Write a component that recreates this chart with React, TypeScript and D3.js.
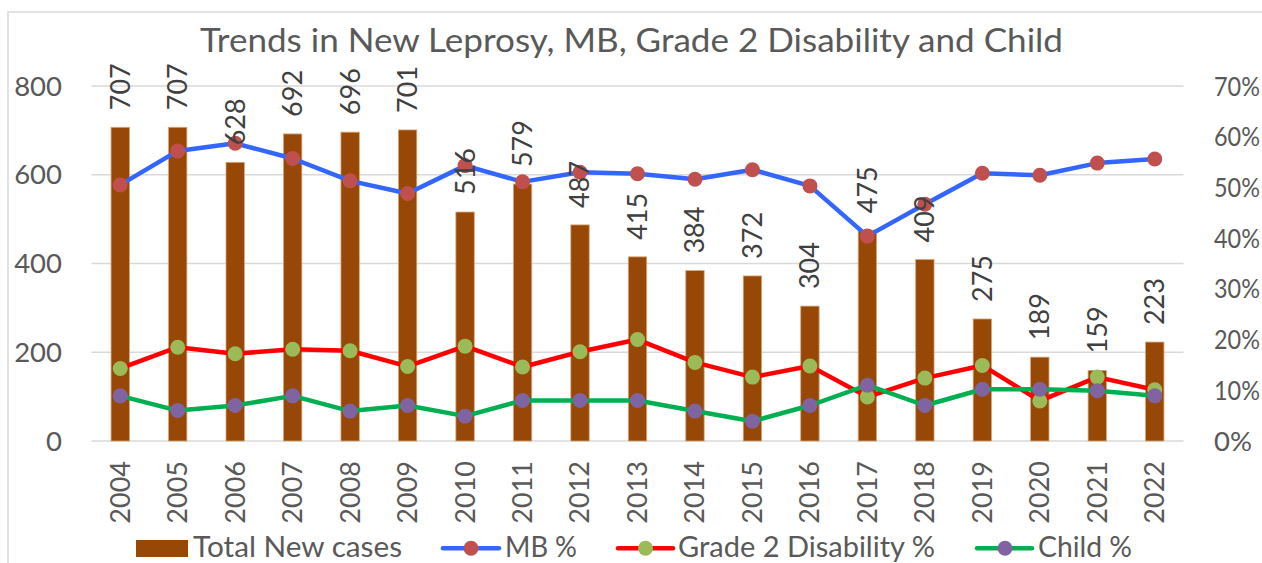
import React from 'react';
import * as d3 from 'd3';

const years = ['2004','2005','2006','2007','2008','2009','2010','2011','2012','2013','2014','2015','2016','2017','2018','2019','2020','2021','2022'];
const totalNewCases = [707,707,628,692,696,701,516,579,487,415,384,372,304,475,409,275,189,159,223];
const mbPct = [50.5,57.2,58.7,55.7,51.3,48.8,54.3,51.1,53.0,52.7,51.6,53.5,50.3,40.4,46.7,52.8,52.4,54.8,55.6];
const grade2Pct = [14.3,18.5,17.2,18.1,17.8,14.7,18.7,14.6,17.6,20.0,15.5,12.6,14.8,8.7,12.4,14.9,7.9,12.6,10.1];
const childPct = [8.9,6.0,7.0,8.9,5.9,7.0,4.9,8.0,8.0,8.0,5.9,3.9,7.0,11.0,7.0,10.2,10.2,9.9,8.9];
const leftTicks = [0,200,400,600,800];
const rightTicks = [0,10,20,30,40,50,60,70];
const title = 'Trends in New Leprosy, MB, Grade 2 Disability and Child';
const seriesNames = ['Total New cases','MB %','Grade 2 Disability %','Child %'];

const FONT = 'Lato, "Open Sans", sans-serif';
const TXT = '#595959';

export default function App() {
  const W = 1262, H = 563;
  const x = d3.scalePoint<string>().domain(years).range([91.5, 1183.5]).padding(0.5);
  const step = x.step();
  const barW = step * 0.32;
  const yL = d3.scaleLinear().domain([0, 800]).range([441, 86]);
  const yR = d3.scaleLinear().domain([0, 70]).range([441, 86]);

  const mkLine = (vals: number[]) =>
    d3.line<number>().x((_, i) => x(years[i]) as number).y(v => yR(v))(vals) as string;

  const lines = [
    { vals: mbPct, line: '#3366ff', marker: '#c0504d' },
    { vals: grade2Pct, line: '#ff0000', marker: '#9bbb59' },
    { vals: childPct, line: '#00b050', marker: '#8064a2' },
  ];

  const legendLines = [
    { x1: 443, x2: 499, mx: 471, tx: 505, tl: 72, ...lines[0], name: seriesNames[1] },
    { x1: 618, x2: 673, mx: 645.5, tx: 678, tl: 257, ...lines[1], name: seriesNames[2] },
    { x1: 977, x2: 1032, mx: 1005, tx: 1038, tl: 94, ...lines[2], name: seriesNames[3] },
  ];

  return (
    <svg width={W} height={H} style={{ position: 'absolute', left: 0, top: 0, background: '#fff' }} fontFamily={FONT}>
      <rect x={0} y={0} width={W} height={H} fill="#fff" />
      <rect x={8} y={12} width={W + 10} height={H + 10} fill="none" stroke="#d9d9d9" strokeWidth={1.5} />
      <text x={631.5} y={52} textAnchor="middle" fontSize={32} fill={TXT} textLength={863} lengthAdjust="spacingAndGlyphs">{title}</text>

      {leftTicks.map(t => (
        <line key={'g' + t} x1={91.5} x2={1183.5} y1={yL(t)} y2={yL(t)} stroke="#d9d9d9" strokeWidth={1.5} />
      ))}

      {totalNewCases.map((v, i) => (
        <rect key={'b' + i} x={(x(years[i]) as number) - barW / 2} y={yL(v)} width={barW} height={yL(0) - yL(v)}
          fill="#974706" stroke="#d8a878" strokeWidth={0.8} />
      ))}

      {lines.map((s, k) => (
        <g key={'s' + k}>
          <path d={mkLine(s.vals)} fill="none" stroke={s.line} strokeWidth={4.5} strokeLinejoin="round" strokeLinecap="round" />
          {s.vals.map((v, i) => (
            <circle key={i} cx={x(years[i]) as number} cy={yR(v)} r={7.5} fill={s.marker} />
          ))}
        </g>
      ))}

      {totalNewCases.map((v, i) => {
        const cx = x(years[i]) as number;
        const cy = yL(v) - 17;
        return (
          <text key={'l' + i} transform={`translate(${cx},${cy}) rotate(-90)`} dy="0.35em" textAnchor="start" fontSize={27} fill="#404040">{v}</text>
        );
      })}

      {leftTicks.map(t => (
        <text key={'lt' + t} x={62} y={yL(t)} dy="0.35em" textAnchor="end" fontSize={27.5} fill={TXT}>{t}</text>
      ))}
      {rightTicks.map(t => (
        <text key={'rt' + t} x={1214} y={yR(t)} dy="0.35em" textAnchor="start" fontSize={27.5} fill={TXT}
          {...(t >= 10 ? { textLength: 46, lengthAdjust: 'spacingAndGlyphs' } : {})}>{t + '%'}</text>
      ))}

      {years.map(yv => (
        <text key={'y' + yv} transform={`translate(${x(yv)},461) rotate(-90)`} dy="0.35em" textAnchor="end" fontSize={27} fill={TXT}>{yv}</text>
      ))}

      <rect x={136} y={540} width={52} height={17} fill="#974706" />
      <text x={193} y={557} fontSize={28} fill={TXT} textLength={209} lengthAdjust="spacingAndGlyphs">{seriesNames[0]}</text>
      {legendLines.map((l, k) => (
        <g key={'lg' + k}>
          <line x1={l.x1} x2={l.x2} y1={548.3} y2={548.3} stroke={l.line} strokeWidth={4.5} strokeLinecap="round" />
          <circle cx={l.mx} cy={548.3} r={7.5} fill={l.marker} />
          <text x={l.tx} y={557} fontSize={28} fill={TXT} textLength={l.tl} lengthAdjust="spacingAndGlyphs">{l.name}</text>
        </g>
      ))}
    </svg>
  );
}
